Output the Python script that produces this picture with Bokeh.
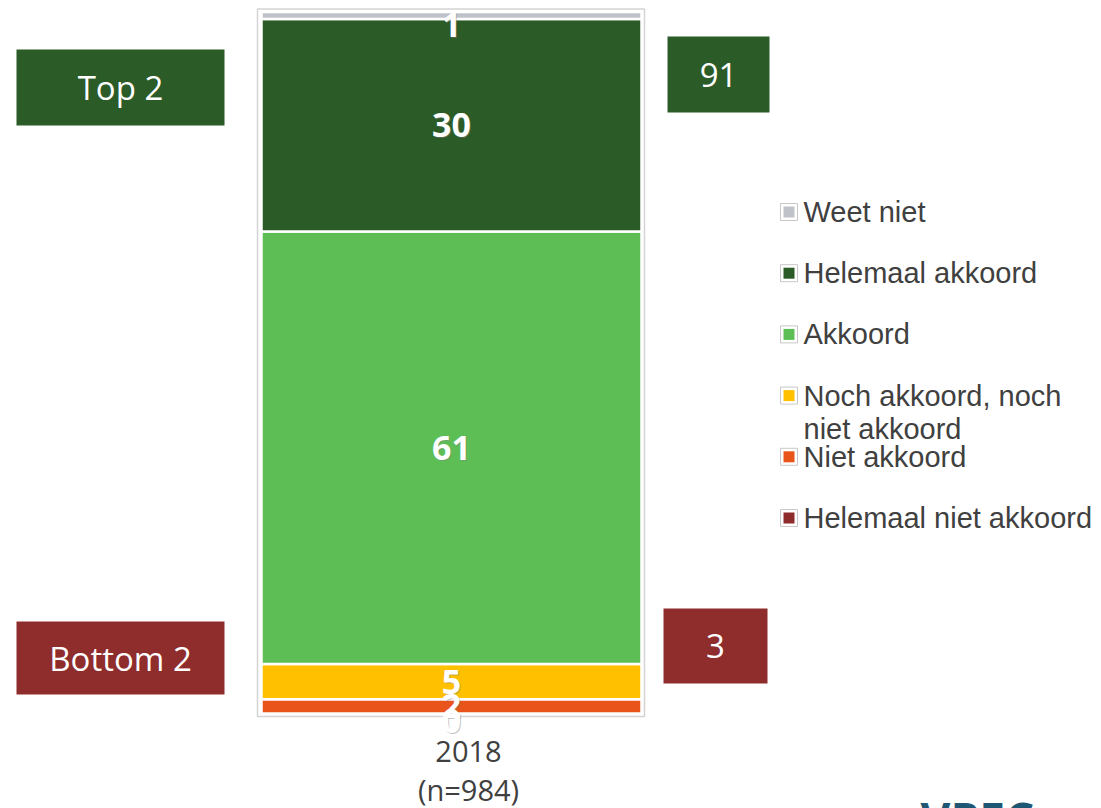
import textwrap
import numpy as np
from bokeh.plotting import figure
from bokeh.models import Range1d, ColumnDataSource
from bokeh.core.properties import value
from bokeh.embed import file_html
from bokeh.resources import INLINE

# ---------------- data ----------------
categories = ["Helemaal niet akkoord", "Niet akkoord", "Noch akkoord, noch niet akkoord",
              "Akkoord", "Helemaal akkoord", "Weet niet"]
values = [0, 2, 5, 61, 30, 1]
colors = ["#8E2B2B", "#E8541A", "#FFC000", "#5DBE55", "#2B5B27", "#BFC3C9"]
year = "2018"
n_resp = 984
top2_label = "Top 2"
bottom2_label = "Bottom 2"
top2_value = 91
bottom2_value = 3

# ---------------- layout helpers (picture pixel -> data) ----------------
W, H = 1100, 808
PX = 380.0      # pixels per x unit (bar width = 1)
XC = 451.0      # picture x of bar centre
PY = 7.087      # pixels per percent
Y0 = 713.0      # picture y of 0 %


def dx(px):
    return (px - XC) / PX


def dy(py):
    return (Y0 - py) / PY


p = figure(width=W, height=H, x_range=Range1d(dx(0), dx(W)),
           y_range=Range1d(dy(H), dy(0)), output_backend="svg",
           toolbar_location=None, min_border=0, x_axis_location=None,
           y_axis_location=None, outline_line_color=None)
p.grid.visible = False
p.background_fill_color = "white"
p.border_fill_color = "white"

# plot-area frame
p.quad(left=[dx(257)], right=[dx(644)], top=[dy(8.5)], bottom=[dy(716)],
       fill_color=None, line_color="#D4D4D4", line_width=1.5)

# stacked bar
vals = np.array(values, dtype=float)
tops = np.cumsum(vals)
bottoms = tops - vals
src = ColumnDataSource(dict(x=[0.0] * len(values), bottom=bottoms, top=tops,
                            color=colors, cat=categories))
p.vbar(x="x", width=1.0, bottom="bottom", top="top", fill_color="color",
       line_color="white", line_width=2.5, source=src)

# value labels
mids = (bottoms + tops) / 2.0
lab_y = [min(m, dy(24)) for m in mids]
lab_off = [7 if v == 0 else 0 for v in values]
lsrc = ColumnDataSource(dict(x=[0.0] * len(values), y=lab_y,
                             t=[str(v) for v in values], off=lab_off,
                             off2=[o + 1 for o in lab_off]))
p.text(x="x", y="y", text="t", source=lsrc, text_font=value("Open Sans"),
       text_font_style="bold", text_font_size="34px", text_color="#808080",
       text_alpha=0.45, text_align="center", text_baseline="middle",
       x_offset=1, y_offset="off2")
p.text(x="x", y="y", text="t", source=lsrc, text_font=value("Open Sans"),
       text_font_style="bold", text_font_size="34px", text_color="white",
       text_align="center", text_baseline="middle", y_offset="off")

# category labels
p.text(x=[0.0], y=[dy(751)], text=[year], x_offset=17, text_font=value("Open Sans"),
       text_font_size="29px", text_color="#404040", text_align="center",
       text_baseline="middle")
p.text(x=[0.0], y=[dy(789)], text=[f"(n={n_resp})"], x_offset=17,
       text_font=value("Open Sans"), text_font_size="29px", text_color="#404040",
       text_align="center", text_baseline="middle")

# Top 2 / Bottom 2 boxes
top_green = "#2B5B27"
bot_red = "#8F2C2C"
boxes = [
    (16, 224, 49, 125, top_green, top2_label),
    (667, 769, 36, 112, top_green, str(top2_value)),
    (16, 224, 621, 694, bot_red, bottom2_label),
    (663, 767, 608, 683, bot_red, str(bottom2_value)),
]
for l, r, t, b, c, txt in boxes:
    p.quad(left=[dx(l)], right=[dx(r)], top=[dy(t)], bottom=[dy(b)],
           fill_color=c, line_color=None)
    p.text(x=[dx((l + r) / 2)], y=[dy((t + b) / 2)], text=[txt],
           text_font=value("Open Sans"), text_font_size="33px",
           text_color="white", text_align="center", text_baseline="middle")

# legend (top to bottom)
leg_cats = list(reversed(categories))
leg_cols = list(reversed(colors))
for i, (cat, col) in enumerate(zip(leg_cats, leg_cols)):
    cy = 211.5 + i * 61.2
    p.quad(left=[dx(780)], right=[dx(797)], top=[dy(cy - 8.5)], bottom=[dy(cy + 8.5)],
           fill_color="white", line_color="#C8C8C8", line_width=1)
    p.quad(left=[dx(783)], right=[dx(794)], top=[dy(cy - 5.5)], bottom=[dy(cy + 5.5)],
           fill_color=col, line_color=None)
    for j, line in enumerate(textwrap.wrap(cat, 21)):
        p.text(x=[dx(803)], y=[dy(cy + j * 33)], text=[line],
               text_font=value("Liberation Sans"), text_font_size="29px",
               text_color="#404040", text_align="left", text_baseline="middle")

# partial logo at the bottom
p.text(x=[dx(920)], y=[dy(786)], text=["VPEC"], text_font=value("Open Sans"),
       text_font_style="bold", text_font_size="46px", text_color="#1F5674",
       text_align="left", text_baseline="top")

open("out.html", "w").write(file_html(p, INLINE))
